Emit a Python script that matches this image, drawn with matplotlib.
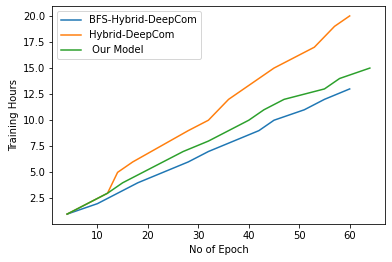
import matplotlib
matplotlib.use("Agg")
import matplotlib.pyplot as plt

bfs_x = [4, 10, 14, 18, 23, 28, 32, 37, 42, 45, 51, 55, 60]
bfs_y = [1, 2, 3, 4, 5, 6, 7, 8, 9, 10, 11, 12, 13]

hyb_x = [4, 12, 14, 17, 28, 32, 36, 45, 53, 57, 60]
hyb_y = [1, 3, 5, 6, 9, 10, 12, 15, 17, 19, 20]

our_x = [4, 12, 15, 27, 32, 36, 40, 43, 47, 51, 55, 58, 64]
our_y = [1, 3, 4, 7, 8, 9, 10, 11, 12, 12.5, 13, 14, 15]

labels = ["BFS-Hybrid-DeepCom", "Hybrid-DeepCom", " Our Model"]
xlabel = "No of Epoch"
ylabel = "Training Hours"

fig = plt.figure(figsize=(392/72, 262/72), dpi=72)
ax = fig.add_axes([52/392, 1 - 224/262, (385-52)/392, (224-6)/262])
ax.plot(bfs_x, bfs_y, label=labels[0])
ax.plot(hyb_x, hyb_y, label=labels[1])
ax.plot(our_x, our_y, label=labels[2])
ax.set_xlabel(xlabel)
ax.set_ylabel(ylabel)
ax.legend(loc="upper left")
fig.savefig("out.png", dpi=72)
